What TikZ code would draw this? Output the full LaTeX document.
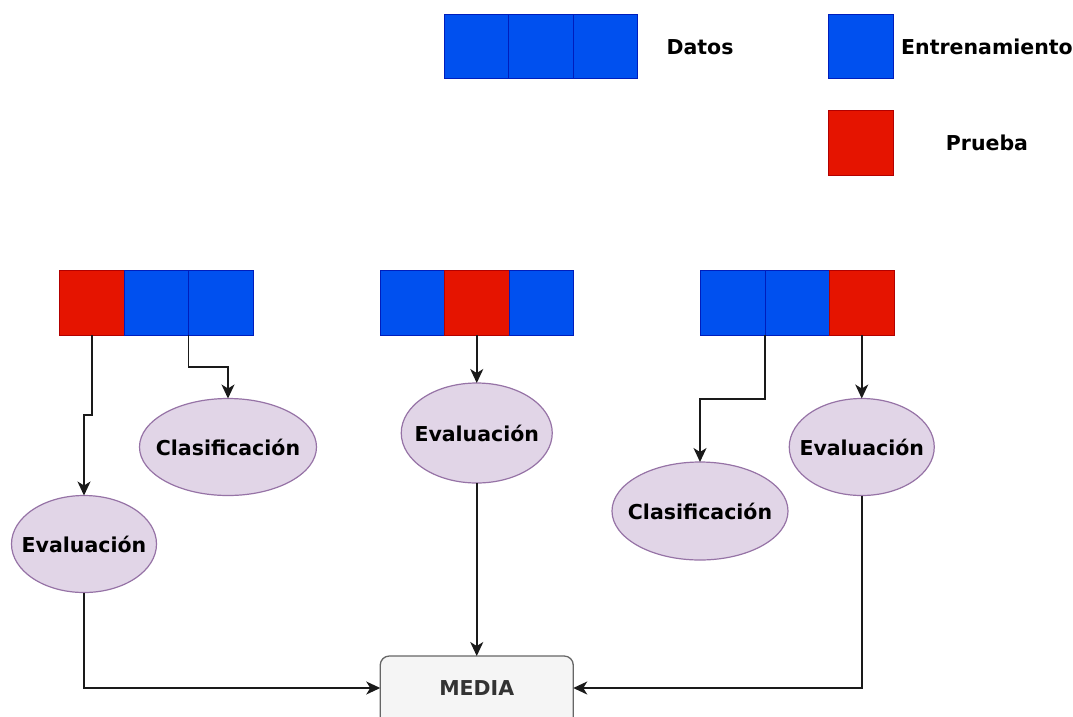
\documentclass[tikz,border=0pt]{standalone}
\usepackage{fontspec}
\setmainfont{DejaVu Sans}
\usetikzlibrary{arrows.meta,shapes.geometric,backgrounds}
\definecolor{blu}{HTML}{0050EF}
\definecolor{bluS}{HTML}{001DBC}
\definecolor{rd}{HTML}{E51400}
\definecolor{rdS}{HTML}{B20000}
\definecolor{pur}{HTML}{E1D5E7}
\definecolor{purS}{HTML}{9673A6}
\definecolor{medF}{HTML}{F5F5F5}
\definecolor{medS}{HTML}{666666}
\definecolor{medT}{HTML}{333333}
\definecolor{lin}{HTML}{1A1A1A}
\tikzset{
  cell/.style={minimum width=64.5pt, minimum height=64.5pt, inner sep=0pt, outer sep=0pt, line width=0.9pt, anchor=north west},
  cellB/.style={cell, draw=bluS, fill=blu},
  cellR/.style={cell, draw=rdS, fill=rd},
  lab/.style={font=\fontsize{20.5}{24}\selectfont\bfseries, text=black, inner sep=0pt},
  oval/.style={ellipse, draw=purS, fill=pur, line width=1.2pt, inner sep=0pt, outer sep=0pt},
  mediabox/.style={minimum width=193pt, minimum height=64pt, anchor=north, inner sep=0pt, outer sep=0pt, text=medT, font=\fontsize{20.5}{24}\selectfont\bfseries},
  mediaframe/.style={draw=medS, fill=medF, rounded corners=9pt, line width=1.3pt},
  arr/.style={draw=lin, line width=1.5pt, -{Stealth[length=14pt,width=13pt,inset=4pt]}}
}
\begin{document}
\begin{tikzpicture}[x=1pt,y=-1pt]
\useasboundingbox (0,0) rectangle (1073,716);
% legend
\node[cellB] (d1) at (444,14) {};
\node[cellB] (d2) at (508.5,14) {};
\node[cellB] (d3) at (573,14) {};
\node[lab] (tdatos) at (700,47) {Datos};
\node[cellB] (le) at (828.5,14) {};
\node[lab] (tent) at (987,47) {Entrenamiento};
\node[cellR] (lp) at (828.5,110.5) {};
\node[lab] (tpr) at (987,143) {Prueba};
% group 1
\node[cellR] (r1) at (59.5,270.5) {};
\node[cellB] (b1a) at (124,270.5) {};
\node[cellB] (b1b) at (188.5,270.5) {};
% group 2
\node[cellB] (b2a) at (380,270.5) {};
\node[cellR] (r2) at (444.5,270.5) {};
\node[cellB] (b2b) at (509,270.5) {};
% group 3
\node[cellB] (b3a) at (700.5,270.5) {};
\node[cellB] (b3b) at (765,270.5) {};
\node[cellR] (r3) at (829.5,270.5) {};
% ellipses
\node[oval, minimum width=145pt, minimum height=97pt, label={[lab]center:Evaluación}] (ev1) at (84,544) {};
\node[oval, minimum width=177pt, minimum height=97pt, label={[lab]center:Clasificación}] (cl1) at (228,447) {};
\node[oval, minimum width=151pt, minimum height=100pt, label={[lab]center:Evaluación}] (ev2) at (476.75,433) {};
\node[oval, minimum width=176pt, minimum height=98pt, label={[lab]center:Clasificación}] (cl2) at (700,511) {};
\node[oval, minimum width=145pt, minimum height=97pt, label={[lab]center:Evaluación}] (ev3) at (861.75,447) {};
% media
\node[mediabox] (med) at (476.75,656) {MEDIA};
\begin{scope}[on background layer]
\path[mediaframe] (med.north west) rectangle ([yshift=-24pt]med.south east);
\end{scope}
% connectors
\draw[arr] (r1.south) -- (r1.south |- 0,415) -| (ev1.north);
\draw[arr] (b1a.south east) -- (b1a.south east |- 0,367) -| (cl1.north);
\draw[arr] (r2.south) -- (ev2.north);
\draw[arr] (b3b.south west) -- (b3b.south west |- 0,399) -| (cl2.north);
\draw[arr] (r3.south) -- (ev3.north);
\draw[arr] (ev1.south) |- (med.west);
\draw[arr] (ev2.south) -- (med.north);
\draw[arr] (ev3.south) |- (med.east);
\end{tikzpicture}
\end{document}
